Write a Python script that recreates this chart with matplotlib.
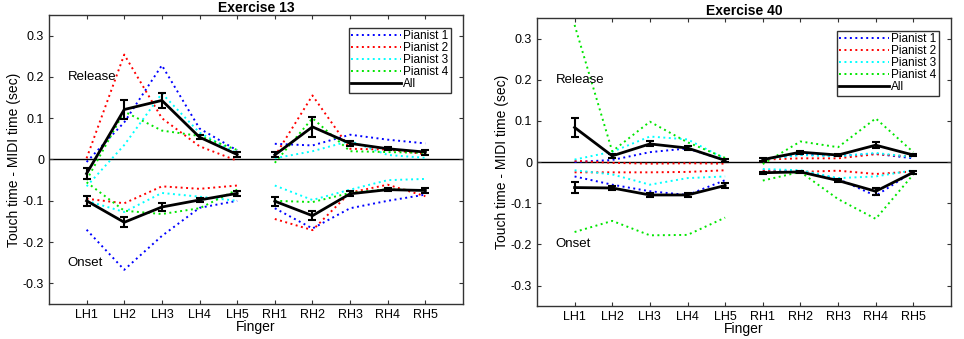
import numpy as np
import matplotlib
matplotlib.use('Agg')
import matplotlib.pyplot as plt
from matplotlib.lines import Line2D

plt.rcParams['font.family'] = ['Liberation Sans', 'DejaVu Sans']

fingers = ['LH1', 'LH2', 'LH3', 'LH4', 'LH5', 'RH1', 'RH2', 'RH3', 'RH4', 'RH5']
yticks = [-0.3, -0.2, -0.1, 0, 0.1, 0.2, 0.3]
ytick_labels = ['-0.3', '-0.2', '-0.1', '0', '0.1', '0.2', '0.3']
pianists = ['Pianist 1', 'Pianist 2', 'Pianist 3', 'Pianist 4']

# Exercise 13
p1_rel_13 = [-0.006, 0.09, 0.228, 0.075, 0.022, 0.038, 0.034, 0.06, 0.048, 0.039]
p2_rel_13 = [0.003, 0.254, 0.10, 0.032, -0.003, 0.008, 0.155, 0.026, 0.024, 0.013]
p3_rel_13 = [-0.065, 0.035, 0.16, 0.065, 0.015, 0.003, 0.02, 0.045, 0.011, 0.004]
p4_rel_13 = [-0.05, 0.116, 0.07, 0.057, 0.023, -0.008, 0.1, 0.02, 0.018, 0.016]
p1_on_13 = [-0.17, -0.267, -0.185, -0.117, -0.1, -0.118, -0.167, -0.118, -0.1, -0.085]
p2_on_13 = [-0.095, -0.106, -0.065, -0.071, -0.063, -0.144, -0.171, -0.08, -0.061, -0.089]
p3_on_13 = [-0.1, -0.127, -0.081, -0.09, -0.1, -0.063, -0.098, -0.073, -0.05, -0.047]
p4_on_13 = [-0.055, -0.124, -0.132, -0.118, -0.073, -0.1, -0.103, -0.081, -0.072, -0.075]
all_rel_13 = [-0.034, 0.121, 0.143, 0.054, 0.012, 0.011, 0.079, 0.039, 0.026, 0.018]
err_rel_13 = [0.013, 0.024, 0.019, 0.005, 0.005, 0.006, 0.024, 0.006, 0.004, 0.006]
all_on_13 = [-0.1, -0.152, -0.115, -0.098, -0.082, -0.101, -0.136, -0.083, -0.073, -0.075]
err_on_13 = [0.012, 0.012, 0.009, 0.004, 0.006, 0.011, 0.011, 0.006, 0.004, 0.005]

# Exercise 40
p1_rel_40 = [0.0, 0.005, 0.024, 0.033, 0.004, 0.007, 0.018, 0.015, 0.02, 0.009]
p2_rel_40 = [0.003, -0.002, -0.004, -0.003, -0.004, 0.006, 0.009, 0.009, 0.019, 0.013]
p3_rel_40 = [0.006, 0.025, 0.062, 0.055, 0.008, 0.007, 0.017, 0.014, 0.022, 0.012]
p4_rel_40 = [0.333, 0.026, 0.098, 0.048, 0.01, -0.005, 0.05, 0.036, 0.106, 0.024]
p1_on_40 = [-0.035, -0.055, -0.071, -0.08, -0.044, -0.021, -0.022, -0.041, -0.082, -0.023]
p2_on_40 = [-0.025, -0.025, -0.025, -0.024, -0.02, -0.021, -0.024, -0.021, -0.029, -0.023]
p3_on_40 = [-0.02, -0.03, -0.055, -0.039, -0.035, -0.017, -0.02, -0.039, -0.035, -0.02]
p4_on_40 = [-0.17, -0.143, -0.178, -0.177, -0.135, -0.045, -0.024, -0.09, -0.138, -0.03]
all_rel_40 = [0.084, 0.015, 0.044, 0.034, 0.004, 0.006, 0.024, 0.017, 0.041, 0.017]
err_rel_40 = [0.023, 0.004, 0.006, 0.004, 0.003, 0.003, 0.004, 0.003, 0.007, 0.003]
all_on_40 = [-0.062, -0.063, -0.08, -0.08, -0.057, -0.026, -0.024, -0.045, -0.071, -0.025]
err_on_40 = [0.014, 0.005, 0.006, 0.005, 0.007, 0.003, 0.003, 0.004, 0.009, 0.003]

colors = [(0, 0, 1), (1, 0, 0), (0, 1, 1), (0, 0.9, 0)]
dots = (0, (1, 1.8))


def draw_panel(ax, title, rel, on, all_rel, err_rel, all_on, err_on, onset_y):
    x = np.arange(1, len(fingers) + 1)
    hands = [slice(0, 5), slice(5, 10)]
    handles = []
    ax.axhline(0, color='black', lw=1, zorder=1)
    for i in range(4):
        for k, h in enumerate(hands):
            ln, = ax.plot(x[h], np.array(rel[i])[h], ls=dots, color=colors[i], lw=1.4, zorder=2)
            ax.plot(x[h], np.array(on[i])[h], ls=dots, color=colors[i], lw=1.4, zorder=2)
            if k == 0:
                handles.append(ln)
    for h in hands:
        ax.errorbar(x[h], np.array(all_rel)[h], yerr=np.array(err_rel)[h], color='black',
                    lw=2, capsize=3, capthick=1.5, elinewidth=1.5, zorder=3)
        ax.errorbar(x[h], np.array(all_on)[h], yerr=np.array(err_on)[h], color='black',
                    lw=2, capsize=3, capthick=1.5, elinewidth=1.5, zorder=3)
    handles.append(Line2D([], [], color='black', lw=2))
    ax.text(0.5, 0.2, 'Release', fontsize=9.5, va='center')
    ax.text(0.5, onset_y, 'Onset', fontsize=9.5, va='center')
    ax.set_xlim(0, 11)
    ax.set_ylim(-0.35, 0.35)
    ax.set_xticks(x)
    ax.set_xticklabels(fingers)
    ax.set_yticks(yticks)
    ax.set_yticklabels(ytick_labels)
    ax.tick_params(direction='in', top=True, right=True, labelsize=9, length=3, color='#333333')
    for s in ax.spines.values():
        s.set_color('#333333')
        s.set_linewidth(1)
    ax.set_xlabel('Finger', fontsize=10, labelpad=-1)
    ax.set_ylabel('Touch time - MIDI time (sec)', fontsize=10, labelpad=1)
    ax.set_title(title, fontsize=10, fontweight='bold', pad=2)
    leg = ax.legend(handles, pianists + ['All'], loc='upper right', bbox_to_anchor=(0.97, 0.955),
                    fontsize=8.5, handlelength=4.2, labelspacing=0.0, handletextpad=0.2,
                    borderpad=0.2, fancybox=False, framealpha=1, borderaxespad=0)
    leg.get_frame().set_edgecolor('#333333')
    leg.get_frame().set_linewidth(1)


fig = plt.figure(figsize=(9.64, 3.39), dpi=100)
ax1 = fig.add_axes([0.0508, 0.103, 0.4295, 0.853])
ax2 = fig.add_axes([0.557, 0.097, 0.4295, 0.85])

draw_panel(ax1, 'Exercise 13',
           [p1_rel_13, p2_rel_13, p3_rel_13, p4_rel_13],
           [p1_on_13, p2_on_13, p3_on_13, p4_on_13],
           all_rel_13, err_rel_13, all_on_13, err_on_13, -0.25)
draw_panel(ax2, 'Exercise 40',
           [p1_rel_40, p2_rel_40, p3_rel_40, p4_rel_40],
           [p1_on_40, p2_on_40, p3_on_40, p4_on_40],
           all_rel_40, err_rel_40, all_on_40, err_on_40, -0.2)

fig.savefig('out.png', dpi=100)
